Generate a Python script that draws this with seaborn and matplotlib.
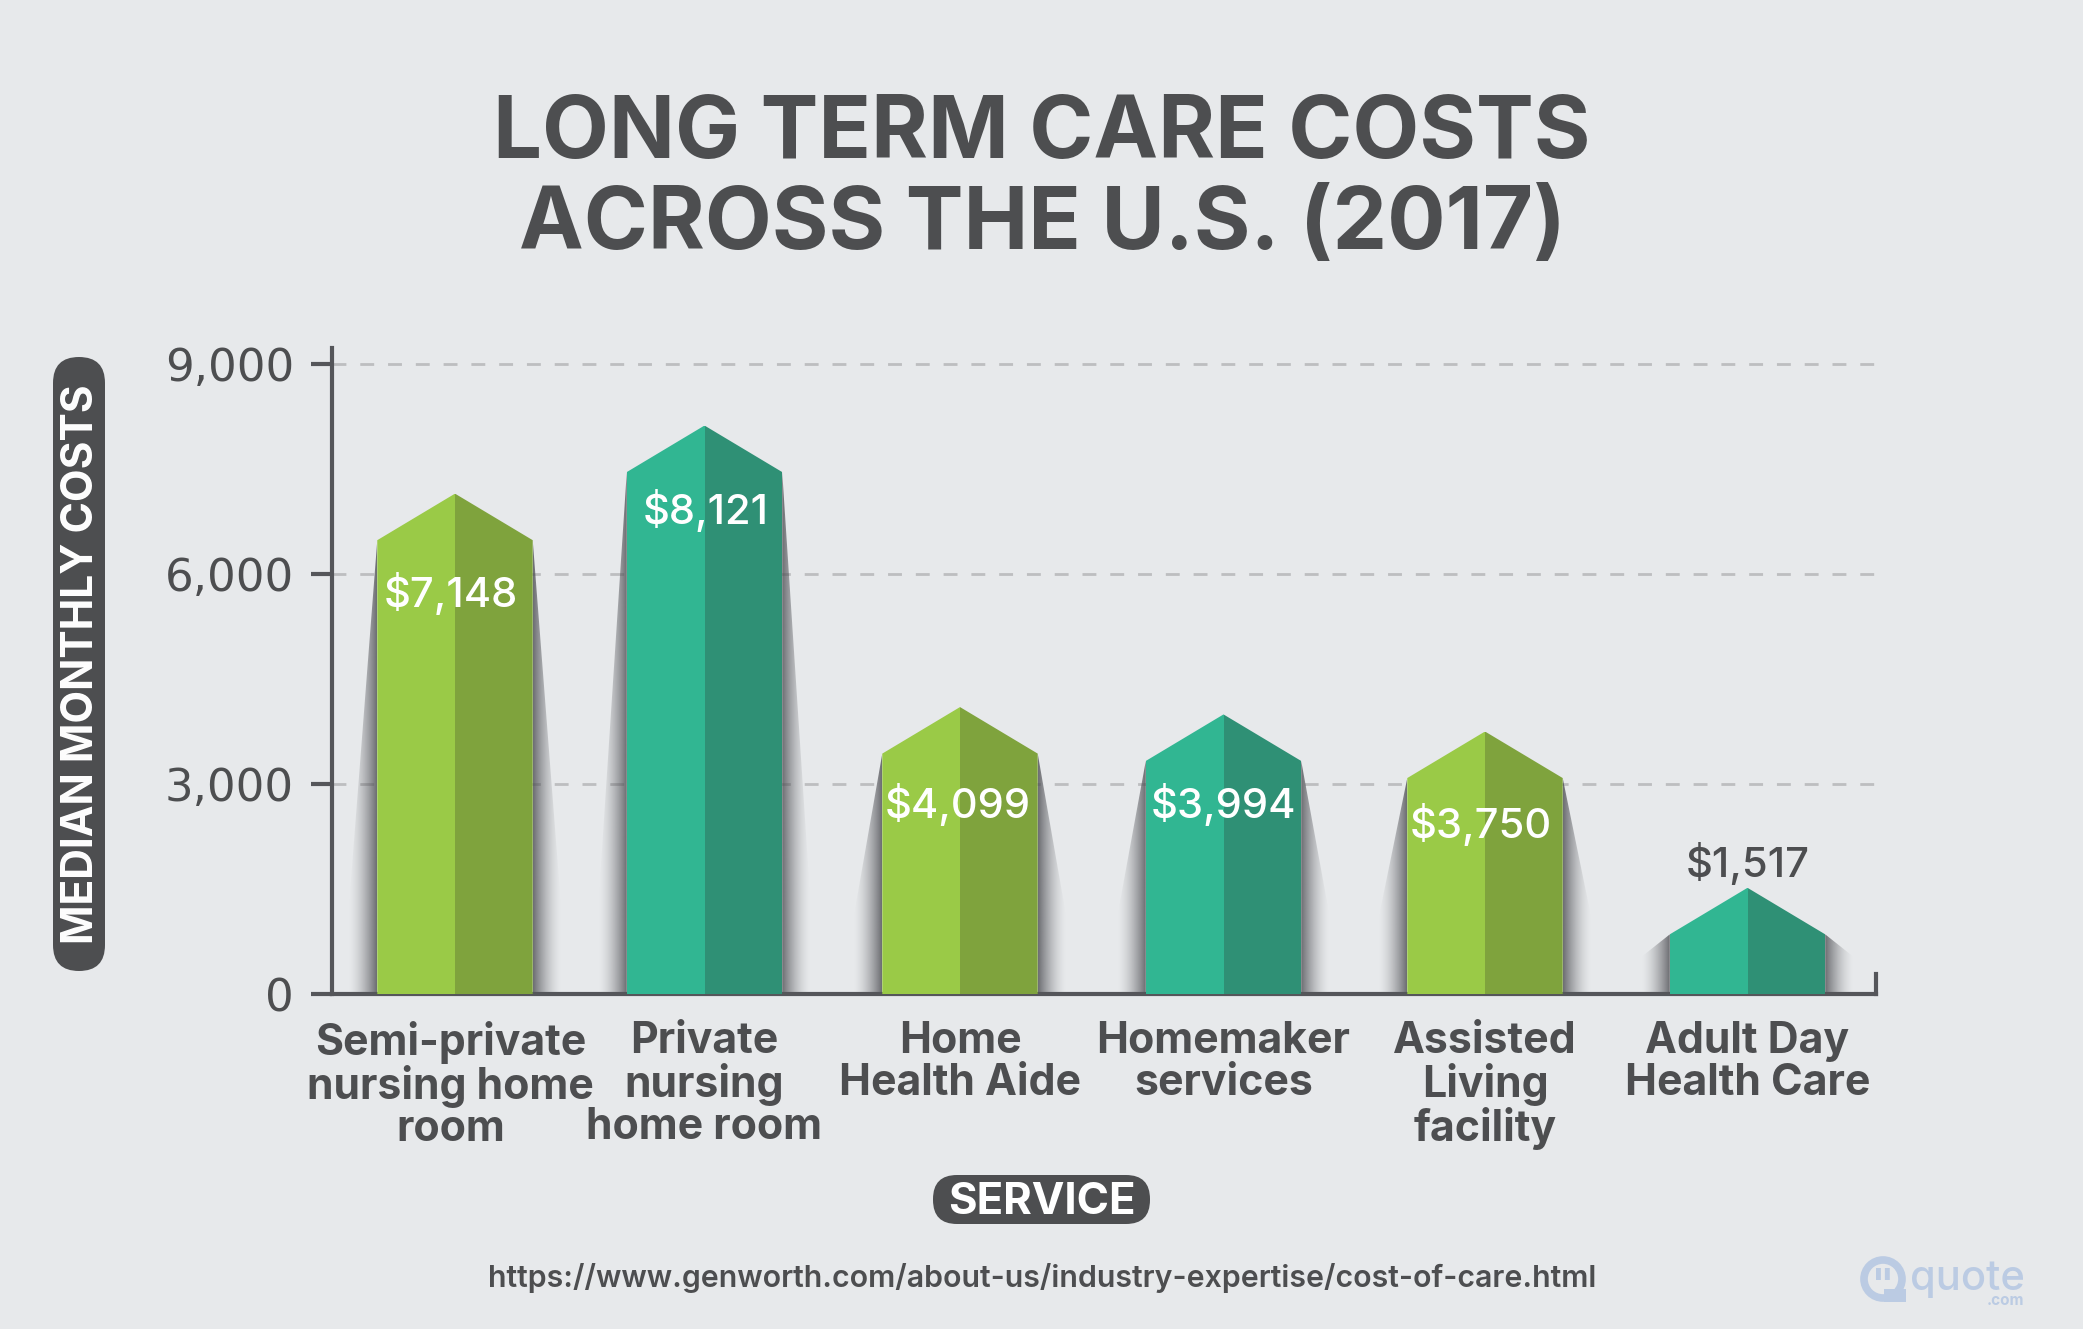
import numpy as np
import pandas as pd
import matplotlib
matplotlib.use("Agg")
import matplotlib.pyplot as plt
from matplotlib.patches import FancyBboxPatch, Polygon, Circle, Rectangle
from matplotlib.colors import to_rgb
from matplotlib.transforms import ScaledTranslation
import seaborn as sns

# ── Data ──────────────────────────────────────────────────────────────────────
services = ["Semi-private\nnursing home\nroom", "Private\nnursing\nhome room",
            "Home\nHealth Aide", "Homemaker\nservices",
            "Assisted\nLiving\nfacility", "Adult Day\nHealth Care"]
costs = [7148, 8121, 4099, 3994, 3750, 1517]
y_ticks = [0, 3000, 6000, 9000]

# layout (px from the y axis)
bar_slots = [123.5, 373, 628.5, 892, 1153.5, 1416]
label_dy = [100, 85, 97, 90, 93, -24]
label_dx = [-3, 1, -2, 0, -3, 0]
light = ["#9ACA47", "#31B692", "#9ACA47", "#31B692", "#9ACA47", "#31B692"]
dark = ["#7FA33D", "#2F9075", "#7FA33D", "#2F9075", "#7FA33D", "#2F9075"]

BG = "#E7E9EB"
INK = "#4D4E50"
AXIS = "#55565A"
LOGO = "#BBCBE3"
TITLE_FONT = ["Inter", "DejaVu Sans"]
NUM_FONT = "DejaVu Sans"
NARROW_FONT = ["Liberation Sans Narrow", "Inter"]
ROOF = 665      # drop from ridge to eave, in dollars
SHADOW_W = 29   # px

df = pd.DataFrame({
    "slot": bar_slots * 2,
    "cost": costs * 2,
    "side": ["left"] * 6 + ["right"] * 6,
})

sns.set_theme(style="white")
W, H = 2083, 1329
fig = plt.figure(figsize=(W / 100, H / 100), dpi=100, facecolor=BG)

# backdrop in pixel coordinates for title, pills, source and logo
bg = fig.add_axes([0, 0, 1, 1], zorder=0)
bg.set_xlim(0, W)
bg.set_ylim(H, 0)
bg.axis("off")

ax = fig.add_axes([331.5 / W, (H - 994) / H, (1876 - 331.5) / W, (994 - 348) / H], zorder=1)
ax.patch.set_alpha(0)

sns.barplot(data=df, x="slot", y="cost", hue="side", native_scale=True,
            width=0.623, gap=0, dodge=True, errorbar=None, legend=False,
            linewidth=0, ax=ax)

# ── House shaped bars with two tones ──────────────────────────────────────────
lefts, rights = ax.containers[0], ax.containers[1]
for i, (lp, rp) in enumerate(zip(lefts, rights)):
    x0 = lp.get_x()
    xc = rp.get_x()
    x1 = xc + rp.get_width()
    top = lp.get_height()
    eave = top - ROOF
    house = [(x0, 0), (x0, eave), (xc, top), (x1, eave), (x1, 0)]
    for p, col in ((lp, light[i]), (rp, dark[i])):
        p.set_facecolor(col)
        p.set_edgecolor("none")
        p.set_zorder(3)
        p.set_clip_path(Polygon(house, transform=ax.transData))

    # soft shadow on both sides
    height_px = eave * 0.07
    drop = max(23, 0.98 * height_px - 70) / 0.07
    for edge, side in ((x0, -1), (x1, 1)):
        fade = np.linspace(1, 0, 64) ** 1.6 * 0.78
        rgba = np.ones((1, 64, 4))
        rgba[..., :3] = to_rgb("#4A4B50")
        rgba[..., 3] = fade if side == 1 else fade[::-1]
        ext = sorted([edge, edge + side * SHADOW_W])
        im = ax.imshow(rgba, extent=(ext[0], ext[1], 0, eave), aspect="auto",
                       interpolation="bilinear", zorder=2)
        im.set_clip_path(Polygon([(edge, eave), (edge + side * SHADOW_W, eave - drop),
                                  (edge + side * SHADOW_W, 0), (edge, 0)],
                                 transform=ax.transData))

    color = "white" if i < 5 else INK
    ax.annotate(f"${costs[i]:,}", (xc, top),
                xytext=(label_dx[i] * 0.96, -label_dy[i] * 0.72), textcoords="offset points",
                ha="center", va="center", color=color, fontsize=30,
                family=TITLE_FONT, fontweight="medium", zorder=4)

ax.set_xlim(0, 1876 - 331.5)
ax.set_ylim(0, (994 - 348) / 0.07)

# ── Axes ──────────────────────────────────────────────────────────────────────
ax.set_axisbelow(True)
ax.yaxis.grid(True, color="#BDBEC0", lw=2, linestyle=(0, (5, 5)))
ax.xaxis.grid(False)
ax.spines["top"].set_visible(False)
for name in ("left", "bottom", "right"):
    ax.spines[name].set_color(AXIS)
    ax.spines[name].set_linewidth(3)
ax.spines["right"].set_bounds(0, 285)

ax.set_yticks(y_ticks)
ax.set_yticklabels([f"{v:,}" for v in y_ticks], family=NUM_FONT, fontsize=32.5, color=INK)
ax.tick_params(axis="y", length=15, width=3, color=AXIS, pad=12, left=True)
ax.set_xticks(bar_slots)
ax.set_xticklabels(services, family=TITLE_FONT, fontweight="bold", fontsize=30.8,
                   color=INK, linespacing=1.03)
ax.tick_params(axis="x", length=0, pad=19.5)
first = ax.get_xticklabels()[0]
first.set_transform(first.get_transform() + ScaledTranslation(-3 / 72, 0, fig.dpi_scale_trans))

ax.set_xlabel("SERVICE", family=TITLE_FONT, fontweight="bold", fontsize=31.5, color="white")
ax.xaxis.set_label_coords((1042 - 331.5) / (1876 - 331.5), (994 - 1202) / (994 - 348))
ax.xaxis.label.set_verticalalignment("center")
ax.set_ylabel("MEDIAN MONTHLY COSTS", family=NARROW_FONT, fontweight="bold", fontsize=30.6, color="white")
ax.yaxis.set_label_coords((82 - 331.5) / (1876 - 331.5), (994 - 664) / (994 - 348))
ax.yaxis.label.set_verticalalignment("center")

# ── Title, pills, source, logo ────────────────────────────────────────────────
bg.text(1042, 173 + 8, "LONG TERM CARE COSTS\nACROSS THE U.S. (2017)", ha="center", va="center",
        family=TITLE_FONT, fontweight="bold", fontsize=62.4, color=INK, linespacing=1.16)

bg.add_patch(FancyBboxPatch((53, 357), 52, 614, boxstyle="round,pad=0,rounding_size=26",
                            fc=INK, ec="none"))
bg.add_patch(FancyBboxPatch((933, 1175), 217, 49, boxstyle="round,pad=0,rounding_size=24",
                            fc=INK, ec="none"))

bg.text(1042, 1278, "https://www.genworth.com/about-us/industry-expertise/cost-of-care.html",
        ha="center", va="center", family=TITLE_FONT, fontweight="semibold", fontsize=21.8, color=INK)

bg.add_patch(Circle((1883, 1279), 19, fc="none", ec=LOGO, lw=5.5))
bg.add_patch(Rectangle((1884, 1289), 22, 13, fc=LOGO, ec="none"))
bg.text(1883, 1287, "\"", ha="center", va="center", family=NUM_FONT, fontweight="bold",
        fontsize=30, color=LOGO)
bg.text(1910, 1290, "quote", ha="left", va="baseline", family=TITLE_FONT, fontweight="medium",
        fontsize=30, color=LOGO)
bg.text(2024, 1305, ".com", ha="right", va="baseline", family=TITLE_FONT, fontweight="bold",
        fontsize=11, color=LOGO)

fig.savefig("out.png", dpi=100, facecolor=BG)
